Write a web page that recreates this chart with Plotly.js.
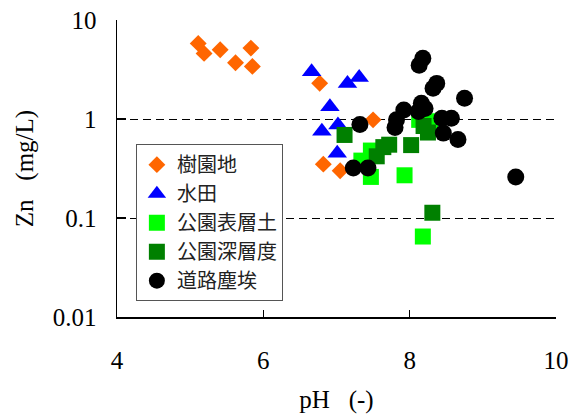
<!DOCTYPE html>
<html>
<head>
<meta charset="utf-8">
<script src="https://cdn.plot.ly/plotly-3.0.1.min.js"></script>
<style>html,body{margin:0;padding:0;background:#fff;}#chart{width:576px;height:416px;}</style>
</head>
<body>
<div id="chart"></div>
<script>
// 樹園地
const orchardPH = [5.11, 5.19, 5.41, 5.62, 5.83, 5.85, 6.77, 7.50, 6.82, 7.05];
const orchardZn = [5.8, 4.6, 5.0, 3.7, 5.2, 3.4, 2.3, 0.98, 0.35, 0.30];
// 水田
const paddyPH = [6.66, 7.15, 7.31, 6.91, 7.02, 6.80, 7.01];
const paddyZn = [3.0, 2.29, 2.63, 1.33, 0.87, 0.75, 0.45];
// 公園表層土
const parkTopPH = [7.34, 7.47, 7.93, 8.18, 8.13, 8.28, 7.47];
const parkTopZn = [0.38, 0.26, 0.27, 0.065, 0.98, 0.95, 0.48];
// 公園深層度
const parkDeepPH = [7.11, 7.55, 7.64, 7.72, 8.02, 8.19, 8.25, 8.31];
const parkDeepZn = [0.69, 0.42, 0.52, 0.55, 0.545, 0.85, 0.73, 0.113];
// 道路塵埃
const roadPH = [7.32, 7.23, 7.43, 8.18, 8.13, 8.37, 8.32, 8.75, 7.92, 8.16, 8.21, 8.12, 7.82, 7.80, 8.44, 8.57, 8.46, 8.66, 9.45];
const roadZn = [0.88, 0.32, 0.32, 4.1, 3.5, 2.29, 2.04, 1.62, 1.23, 1.44, 1.28, 1.19, 0.98, 0.82, 1.02, 1.02, 0.72, 0.62, 0.26];

const yTickVals = [0.01, 0.1, 1, 10];
const yTickText = ["0.01", "0.1", "1", "10"];
const xTickVals = [4, 6, 8, 10];

const serif = "Liberation Serif, Times New Roman, serif";
const cjk = "Noto Sans CJK JP, sans-serif";

const traces = [
  {name: "樹園地", x: orchardPH, y: orchardZn, symbol: "diamond", color: "#FF6600", size: 13},
  {name: "水田", x: paddyPH, y: paddyZn, symbol: "triangle-up", color: "#0000FF", size: 17},
  {name: "公園表層土", x: parkTopPH, y: parkTopZn, symbol: "square", color: "#00FF00", size: 16},
  {name: "公園深層度", x: parkDeepPH, y: parkDeepZn, symbol: "square", color: "#008000", size: 16},
  {name: "道路塵埃", x: roadPH, y: roadZn, symbol: "circle", color: "#000000", size: 17}
].map((t, i) => ({
  type: "scatter", mode: "markers", name: t.name, x: t.x, y: t.y,
  legendgroup: "g" + i,
  marker: {symbol: t.symbol, color: t.color, size: t.size, line: {width: 0}}
}));

const layout = {
  width: 576, height: 416,
  margin: {l: 117, r: 20, t: 20, b: 99},
  paper_bgcolor: "#fff", plot_bgcolor: "#fff",
  showlegend: true,
  font: {family: serif, size: 25, color: "#000"},
  xaxis: {
    type: "linear", range: [4, 10], tickvals: xTickVals, ticktext: xTickVals.map(String),
    showline: true, linecolor: "#000", linewidth: 1.5,
    ticks: "inside", ticklen: 7, tickwidth: 1.5, tickcolor: "#000",
    showgrid: false, zeroline: false,
    tickfont: {family: serif, size: 25, color: "#000"},
    ticklabelstandoff: 20,
    title: {text: "pH\u00a0\u00a0\u00a0(-)", font: {family: serif, size: 25, color: "#000"}, standoff: 18}
  },
  yaxis: {
    type: "log", range: [-2, 1], tickvals: yTickVals, ticktext: yTickText,
    showline: true, linecolor: "#000", linewidth: 1.5,
    ticks: "inside", ticklen: 9, tickwidth: 1.5, tickcolor: "#000",
    showgrid: true, gridcolor: "#000", gridwidth: 1, griddash: "8px,5px",
    zeroline: false,
    tickfont: {family: serif, size: 25, color: "#000"},
    ticklabelstandoff: 14,
    title: {text: "Zn\u00a0\u00a0\u00a0(mg/L)\u00a0\u00a0\u00a0\u00a0\u00a0\u00a0\u00a0", font: {family: serif, size: 25, color: "#000"}, standoff: 12}
  },
  legend: {
    x: 0.043, y: 0.582, xanchor: "left", yanchor: "top",
    bgcolor: "#fff", bordercolor: "#555", borderwidth: 1,
    font: {family: cjk, size: 20, color: "#222"},
    tracegroupgap: 0, itemwidth: 30
  }
};

Plotly.newPlot("chart", traces, layout, {staticPlot: true, displayModeBar: false});
</script>
</body>
</html>
